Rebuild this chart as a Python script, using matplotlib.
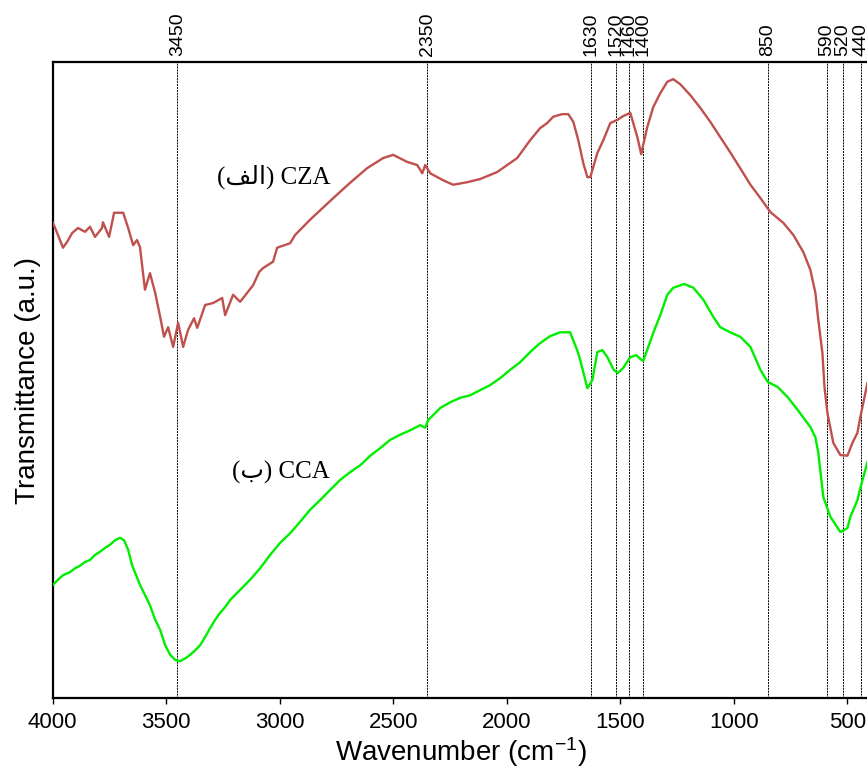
import numpy as np
import matplotlib
matplotlib.use('Agg')
import matplotlib.pyplot as plt

# CZA (red) spectrum
cza_wn = [3998, 3976, 3954, 3936, 3914, 3888, 3857, 3835, 3813, 3782, 3778, 3751, 3729, 3689,
          3667, 3645, 3628, 3615, 3593, 3571, 3548, 3526, 3509, 3491, 3469, 3447, 3425, 3403,
          3377, 3363, 3328, 3293, 3253, 3240, 3205, 3174, 3143, 3117, 3090, 3073, 3029, 3011,
          2954, 2932, 2866, 2764, 2690, 2615, 2544, 2500, 2439, 2394, 2372, 2359, 2337, 2280,
          2236, 2174, 2117, 2042, 1954, 1897, 1853, 1822, 1795, 1756, 1729, 1707, 1685, 1663,
          1645, 1632, 1619, 1601, 1575, 1544, 1513, 1487, 1456, 1443, 1425, 1408, 1399, 1381,
          1355, 1324, 1293, 1267, 1236, 1192, 1148, 1104, 1060, 1016, 972, 927, 883, 839,
          782, 738, 694, 663, 641, 628, 610, 601, 588, 562, 531, 500, 478, 456, 443, 412]
cza_t = [74.7, 72.8, 70.8, 71.7, 73.1, 73.9, 73.3, 74.1, 72.5, 73.9, 74.8, 72.5, 76.3, 76.3,
         73.9, 71.2, 72.0, 70.9, 64.2, 66.8, 63.7, 59.9, 56.8, 58.3, 55.2, 59.0, 55.2, 57.9,
         59.7, 58.2, 61.8, 62.1, 62.9, 60.2, 63.4, 62.3, 63.7, 64.9, 67.0, 67.6, 68.6, 70.8,
         71.5, 72.8, 75.2, 78.6, 81.0, 83.3, 84.9, 85.4, 84.3, 83.8, 82.5, 83.8, 82.5, 81.4,
         80.7, 81.1, 81.6, 82.7, 84.9, 87.7, 89.6, 90.4, 91.4, 91.8, 91.8, 90.6, 87.7, 84.1,
         81.9, 81.9, 83.5, 85.7, 87.7, 90.4, 90.9, 91.5, 92.0, 90.4, 88.2, 85.5, 87.0, 89.8,
         92.9, 95.1, 96.9, 97.3, 96.5, 94.8, 92.8, 90.6, 88.2, 85.8, 83.3, 80.7, 78.6, 76.4,
         74.7, 72.8, 70.1, 67.3, 63.7, 59.4, 54.2, 48.9, 44.8, 40.1, 38.2, 38.1, 40.1, 41.7, 44.2, 49.5]

# CCA (green) spectrum
cca_wn = [3998, 3976, 3954, 3923, 3901, 3879, 3857, 3835, 3813, 3791, 3769, 3747, 3725, 3703,
          3685, 3667, 3650, 3632, 3615, 3593, 3571, 3548, 3526, 3504, 3482, 3460, 3438, 3412,
          3394, 3372, 3350, 3328, 3306, 3284, 3262, 3240, 3218, 3174, 3130, 3086, 3042, 2998,
          2954, 2910, 2866, 2822, 2778, 2733, 2690, 2645, 2601, 2557, 2513, 2469, 2425, 2381,
          2359, 2346, 2315, 2293, 2249, 2205, 2161, 2117, 2073, 2029, 1985, 1941, 1897, 1853,
          1809, 1765, 1721, 1690, 1676, 1645, 1623, 1601, 1579, 1557, 1529, 1511, 1487, 1456,
          1429, 1412, 1399, 1377, 1355, 1324, 1293, 1267, 1218, 1178, 1134, 1090, 1060, 1016,
          972, 927, 883, 851, 807, 763, 719, 663, 641, 628, 606, 575, 531, 500, 487, 456, 443, 412]
cca_t = [17.8, 18.6, 19.3, 19.8, 20.4, 20.8, 21.4, 21.7, 22.5, 23.0, 23.6, 24.1, 24.8, 25.2,
         24.8, 23.3, 20.9, 19.3, 17.8, 16.2, 14.6, 12.3, 10.7, 8.3, 6.8, 6.0, 5.8, 6.3,
         6.8, 7.5, 8.3, 9.6, 11.0, 12.3, 13.4, 14.3, 15.4, 17.0, 18.6, 20.4, 22.5, 24.4,
         25.9, 27.7, 29.6, 31.1, 32.7, 34.3, 35.5, 36.6, 38.1, 39.3, 40.6, 41.4, 42.1, 42.9,
         42.5, 43.7, 44.8, 45.6, 46.5, 47.2, 47.6, 48.4, 49.2, 50.3, 51.6, 52.8, 54.4, 55.8,
         56.9, 57.5, 57.5, 54.7, 53.1, 48.7, 50.0, 54.4, 54.7, 53.6, 51.6, 51.1, 51.9, 53.6,
         53.9, 53.3, 53.0, 55.2, 57.4, 60.2, 63.4, 64.5, 65.1, 64.5, 62.6, 59.9, 58.3, 57.5,
         56.8, 55.2, 51.6, 49.7, 48.9, 47.3, 45.3, 42.6, 41.0, 38.5, 31.6, 28.5, 26.1, 26.7,
         28.5, 31.1, 33.0, 37.1]

peaks = [3450, 2350, 1630, 1520, 1460, 1400, 850, 590, 520, 440]
xticks = [4000, 3500, 3000, 2500, 2000, 1500, 1000, 500]

fig = plt.figure(figsize=(8.67, 7.73), dpi=100)
ax1 = fig.add_axes([0.0606, 0.097, 0.943, 0.8228])

for p in peaks:
    ax1.axvline(p, color='black', lw=0.7, ls=(0, (2, 1)), zorder=1)

ax1.plot(cza_wn, cza_t, color='#c0504d', lw=1.7, zorder=3)
ax1.plot(cca_wn, cca_t, color='#00ee00', lw=1.7, zorder=3)

ax1.set_xlim(4000, 400)
ax1.set_ylim(0, 100)
ax1.set_yticks([])
ax1.set_xticks(xticks)
ax1.tick_params(axis='x', direction='out', length=4, width=1, labelsize=16, pad=6)
for lab in ax1.get_xticklabels():
    lab.set_family('Liberation Sans')
ax1.spines['right'].set_visible(False)
for s in ['left', 'top', 'bottom']:
    ax1.spines[s].set_linewidth(1.6)

ax1.set_xlabel('Wavenumber (cm$\\mathregular{^{-1}}$)', fontsize=20,
               family='Liberation Sans', labelpad=2)
ax1.set_ylabel('Transmittance (a.u.)', fontsize=20, family='Liberation Sans', labelpad=8)

# top peak labels
ax2 = ax1.twiny()
ax2.set_xlim(ax1.get_xlim())
ax2.set_xticks(peaks)
ax2.set_xticklabels([str(p) for p in peaks], rotation=90, fontsize=14, family='Liberation Sans')
ax2.tick_params(axis='x', length=0, pad=4)
for s in ['left', 'right', 'bottom', 'top']:
    ax2.spines[s].set_visible(False)

fam = ['Liberation Serif', 'DejaVu Sans']
ax1.text(2778, 81.9, '(\uFED2\uFEDF\uFE8D) CZA', ha='right', va='center', fontsize=18, family=fam)
ax1.text(2778, 35.5, '(\uFE8F) CCA', ha='right', va='center', fontsize=18, family=fam)

plt.savefig('out.png', dpi=100)
